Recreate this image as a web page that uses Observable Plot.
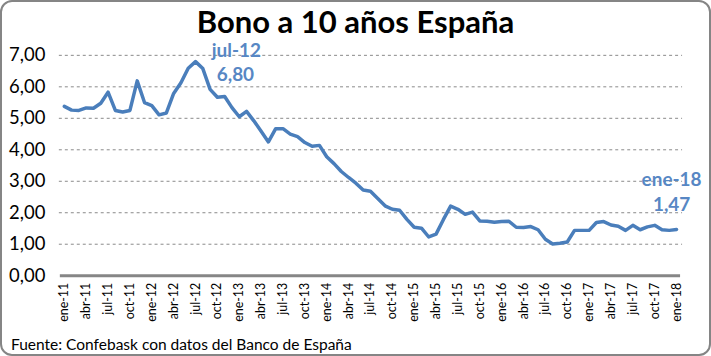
<!DOCTYPE html>
<html>
<head>
<meta charset="utf-8">
<script src="https://cdn.jsdelivr.net/npm/d3@7"></script>
<script src="https://cdn.jsdelivr.net/npm/@observablehq/plot@0.6"></script>
<style>
  html, body { margin: 0; padding: 0; background: #fff; }
  #wrap { position: relative; width: 711px; height: 356px; box-sizing: border-box;
          border: 2px solid #858585; border-radius: 12px; overflow: hidden; background: #fff; }
  #chart { position: absolute; left: -2px; top: -2px; }
  #title { position: absolute; left: -2px; top: 4px; width: 711px; text-align: center;
           font: bold 31px Lato, sans-serif; line-height: 30px; color: #000; }
  #caption { position: absolute; left: 9px; top: 334px; font: 15.5px Lato, sans-serif;
             line-height: 16px; color: #000; white-space: nowrap; }
</style>
</head>
<body>
<div id="wrap">
  <div id="chart"></div>
  <div id="title">Bono a 10 años España</div>
  <div id="caption">Fuente: Confebask con datos del Banco de España</div>
</div>
<script>
const monthNames = ["ene","feb","mar","abr","may","jun","jul","ago","sep","oct","nov","dic"];
const years = ["11","12","13","14","15","16","17","18"];
const months = [];
years.forEach(y => monthNames.forEach(m => months.push(m + "-" + y)));
months.length = 85; // ene-11 .. ene-18

const values = [
  5.38,5.26,5.25,5.33,5.32,5.48,5.83,5.25,5.20,5.25,6.19,5.50,
  5.40,5.11,5.17,5.79,6.13,6.59,6.80,6.58,5.92,5.67,5.69,5.34,
  5.05,5.22,4.92,4.59,4.25,4.67,4.67,4.50,4.42,4.23,4.11,4.14,
  3.78,3.56,3.31,3.12,2.94,2.72,2.68,2.45,2.22,2.11,2.08,1.79,
  1.54,1.51,1.23,1.32,1.78,2.21,2.11,1.95,2.02,1.74,1.73,1.70,
  1.72,1.73,1.54,1.53,1.56,1.46,1.16,1.01,1.03,1.07,1.44,1.44,
  1.44,1.69,1.72,1.61,1.57,1.44,1.60,1.46,1.55,1.60,1.46,1.44,
  1.47
];
const yTicks = [0,1,2,3,4,5,6,7];
const xTickIdx = d3.range(0, 85, 3);
const annotated = ["jul-12", "ene-18"];

const data = values.map((v, i) => ({i, label: months[i], v}));
const notes = data.filter(d => annotated.includes(d.label));
const fmt = v => v.toFixed(2).replace(".", ",");

const lineColor = "#4A7EBB";
const noteColor = "#5787C4";

const plot = Plot.plot({
  width: 711, height: 356,
  marginLeft: 64, marginRight: 33, marginTop: 55, marginBottom: 80,
  style: {fontFamily: "Lato, sans-serif", color: "#000", background: "transparent"},
  x: {type: "linear", domain: [0, 84]},
  y: {domain: [0, 7]},
  marks: [
    Plot.ruleY(yTicks.filter(t => t > 0), {stroke: "#8a8a8a", strokeDasharray: "3,3", strokeWidth: 1, insetLeft: -5, insetRight: -6}),
    Plot.ruleY([0], {stroke: "#868686", strokeWidth: 3, insetLeft: -4, insetRight: -4}),
    Plot.axisY({ticks: yTicks, tickFormat: fmt, tickSize: 0, tickPadding: 19, fontSize: 18.5, label: null}),
    Plot.axisX({ticks: xTickIdx, tickFormat: i => months[i], tickRotate: -90, tickSize: 0, tickPadding: 7, fontSize: 12.5, label: null}),
    Plot.line(data, {x: "i", y: "v", stroke: lineColor, strokeWidth: 3.5, strokeLinejoin: "round", strokeLinecap: "round"}),
    Plot.text(notes.filter(d => d.label === "jul-12"), {x: "i", y: "v", text: "label", dx: 41, dy: -11, fill: noteColor, fontWeight: "bold", fontSize: 19}),
    Plot.text(notes.filter(d => d.label === "jul-12"), {x: "i", y: "v", text: d => fmt(d.v), dx: 40, dy: 13, fill: noteColor, fontWeight: "bold", fontSize: 19}),
    Plot.text(notes.filter(d => d.label === "ene-18"), {x: "i", y: "v", text: "label", dx: -5, dy: -50, fill: noteColor, fontWeight: "bold", fontSize: 19}),
    Plot.text(notes.filter(d => d.label === "ene-18"), {x: "i", y: "v", text: d => fmt(d.v), dx: -5, dy: -25, fill: noteColor, fontWeight: "bold", fontSize: 19})
  ]
});
document.getElementById("chart").appendChild(plot);
</script>
</body>
</html>
